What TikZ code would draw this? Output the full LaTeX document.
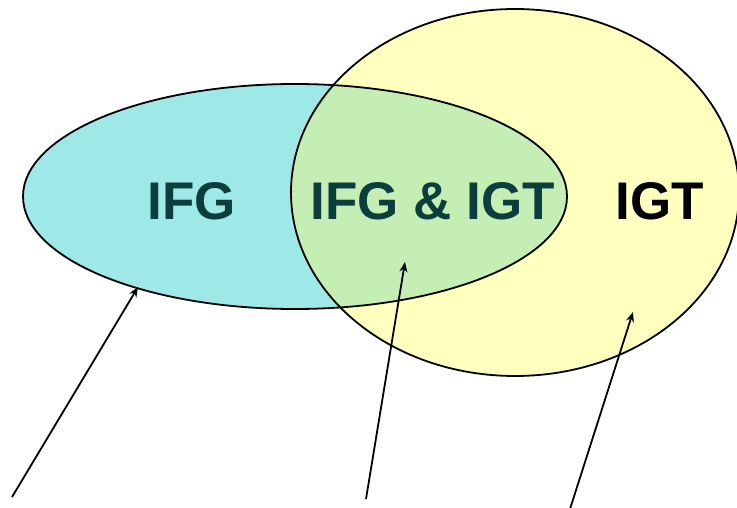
\documentclass[tikz,border=0pt]{standalone}
\usepackage{fontspec}
\setmainfont{Liberation Sans}
\usetikzlibrary{arrows.meta}
\definecolor{cyanfill}{RGB}{158,232,232}
\definecolor{yellowfill}{RGB}{255,255,190}
\definecolor{overlapfill}{RGB}{196,238,180}
\definecolor{tealtext}{RGB}{12,62,62}
\begin{document}
\begin{tikzpicture}[x=1pt,y=-1pt,
  setlabel/.style={anchor=base, inner sep=0pt, font=\fontsize{53}{60}\selectfont\bfseries},
  outline/.style={draw=black, line width=1.8pt},
  pointer/.style={draw=black, line width=1.8pt, -{Stealth[length=10pt,width=8pt]}}]
\useasboundingbox (0,0) rectangle (737,508);
% filled sets
\fill[yellowfill] (515,192.5) ellipse [x radius=224, y radius=183.5];
\fill[cyanfill] (295,196.5) ellipse [x radius=272, y radius=112.5];
\begin{scope}
  \clip (295,196.5) ellipse [x radius=272, y radius=112.5];
  \fill[overlapfill] (515,192.5) ellipse [x radius=224, y radius=183.5];
\end{scope}
% outlines
\path[outline] (515,192.5) ellipse [x radius=224, y radius=183.5];
\path[outline] (295,196.5) ellipse [x radius=272, y radius=112.5];
% labels
\node[setlabel, text=tealtext] (ifg) at (191.5,219) {IFG};
\node[setlabel, text=tealtext] (both) at (432.5,219) {IFG \& IGT};
\node[setlabel, text=black] (igt) at (659.5,220) {IGT};
% pointer ends
\coordinate (s1) at (12,497);
\coordinate (t1) at (138,287);
\coordinate (s2) at (366,499);
\coordinate (t2) at (405,262);
\coordinate (s3) at (570,509);
\coordinate (t3) at (633,312);
\draw[pointer] (s1) -- (t1);
\draw[pointer] (s2) -- (t2);
\draw[pointer] (s3) -- (t3);
\end{tikzpicture}
\end{document}
